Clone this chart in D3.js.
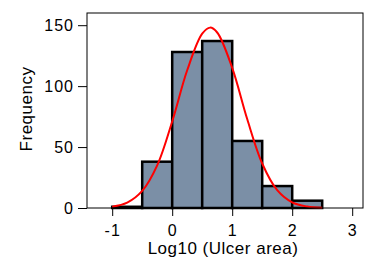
<!DOCTYPE html>
<html>
<head>
<meta charset="utf-8">
<script src="https://cdn.jsdelivr.net/npm/d3@7"></script>
<style>
	body { margin: 0; background: white; }
	text { font-family: "Liberation Sans", Arial, sans-serif; fill: black; }
</style>
</head>
<body>
<svg id="svg"></svg>
<script>
// histogram bins (lower edge, width 0.5) and counts
const binStarts = [-1, -0.5, 0, 0.5, 1, 1.5, 2]
const binWidth = 0.5
const counts = [1, 38, 128, 137, 55, 18, 6]

// fitted normal curve
const curveX = [-1, -0.75, -0.5, -0.25, 0, 0.25, 0.5, 0.63, 0.75, 1, 1.25, 1.5, 1.75, 2, 2.25, 2.5]
const curveY = [1.1, 4.4, 14, 35, 71, 113, 143, 148, 144, 115, 73, 36.5, 14.6, 4.6, 1.2, 0.2]

const xTicks = [-1, 0, 1, 2, 3]
const yTicks = [0, 50, 100, 150]

const drawChart = () => {
	let w = 377
	let h = 276
	let mLeft = 87, mRight = 363, mTop = 13, mBottom = 208

	let svg = d3.select('#svg').attr('width', w).attr('height', h)

	let x = d3.scaleLinear().domain([-1.42, 3.18]).range([mLeft, mRight])
	let y = d3.scaleLinear().domain([0, 160]).range([mBottom, mTop])

	// bars
	svg.append('g')
		.selectAll('rect')
		.data(binStarts.map((b, i) => [b, counts[i]]))
		.enter().append('rect')
		.attr('x', d => x(d[0]))
		.attr('width', d => x(d[0] + binWidth) - x(d[0]))
		.attr('y', d => y(d[1]))
		.attr('height', d => y(0) - y(d[1]))
		.attr('fill', '#7b8fa6')
		.attr('stroke', 'black')
		.attr('stroke-width', 2.5)

	// normal curve
	let line = d3.line()
		.x(d => x(d[0]))
		.y(d => y(d[1]))
		.curve(d3.curveCatmullRom)

	svg.append('path')
		.datum(curveX.map((v, i) => [v, curveY[i]]))
		.attr('d', line)
		.attr('fill', 'none')
		.attr('stroke', '#ff0000')
		.attr('stroke-width', 2)

	// frame
	svg.append('rect')
		.attr('x', mLeft).attr('y', mTop)
		.attr('width', mRight - mLeft).attr('height', mBottom - mTop)
		.attr('fill', 'none')
		.attr('stroke', 'black')
		.attr('stroke-width', 1)

	// axes
	let xAxis = svg.append('g')
		.attr('transform', `translate(0,${mBottom})`)
		.call(d3.axisBottom(x).tickValues(xTicks).tickSize(8).tickPadding(9).tickFormat(d3.format('d')))
	let yAxis = svg.append('g')
		.attr('transform', `translate(${mLeft},0)`)
		.call(d3.axisLeft(y).tickValues(yTicks).tickSize(9).tickPadding(4))

	;[xAxis, yAxis].forEach(a => {
		a.select('.domain').remove()
		a.selectAll('line').attr('stroke', 'black')
		a.selectAll('text')
			.attr('font-family', '"Liberation Sans", Arial, sans-serif')
			.attr('font-size', 16)
			.style('letter-spacing', '1px')
			.attr('fill', 'black')
	})
	xAxis.selectAll('text').text(d => d < 0 ? '-' + Math.abs(d) : d)

	// axis titles
	svg.append('text')
		.attr('x', 223).attr('y', 254)
		.attr('text-anchor', 'middle')
		.attr('font-size', 17)
		.style('letter-spacing', '0.5px')
		.text('Log10 (Ulcer area)')

	svg.append('text')
		.attr('transform', 'translate(31.5,109) rotate(-90)')
		.attr('text-anchor', 'middle')
		.attr('font-size', 17)
		.style('letter-spacing', '0.5px')
		.text('Frequency')
}

drawChart()
</script>
</body>
</html>
